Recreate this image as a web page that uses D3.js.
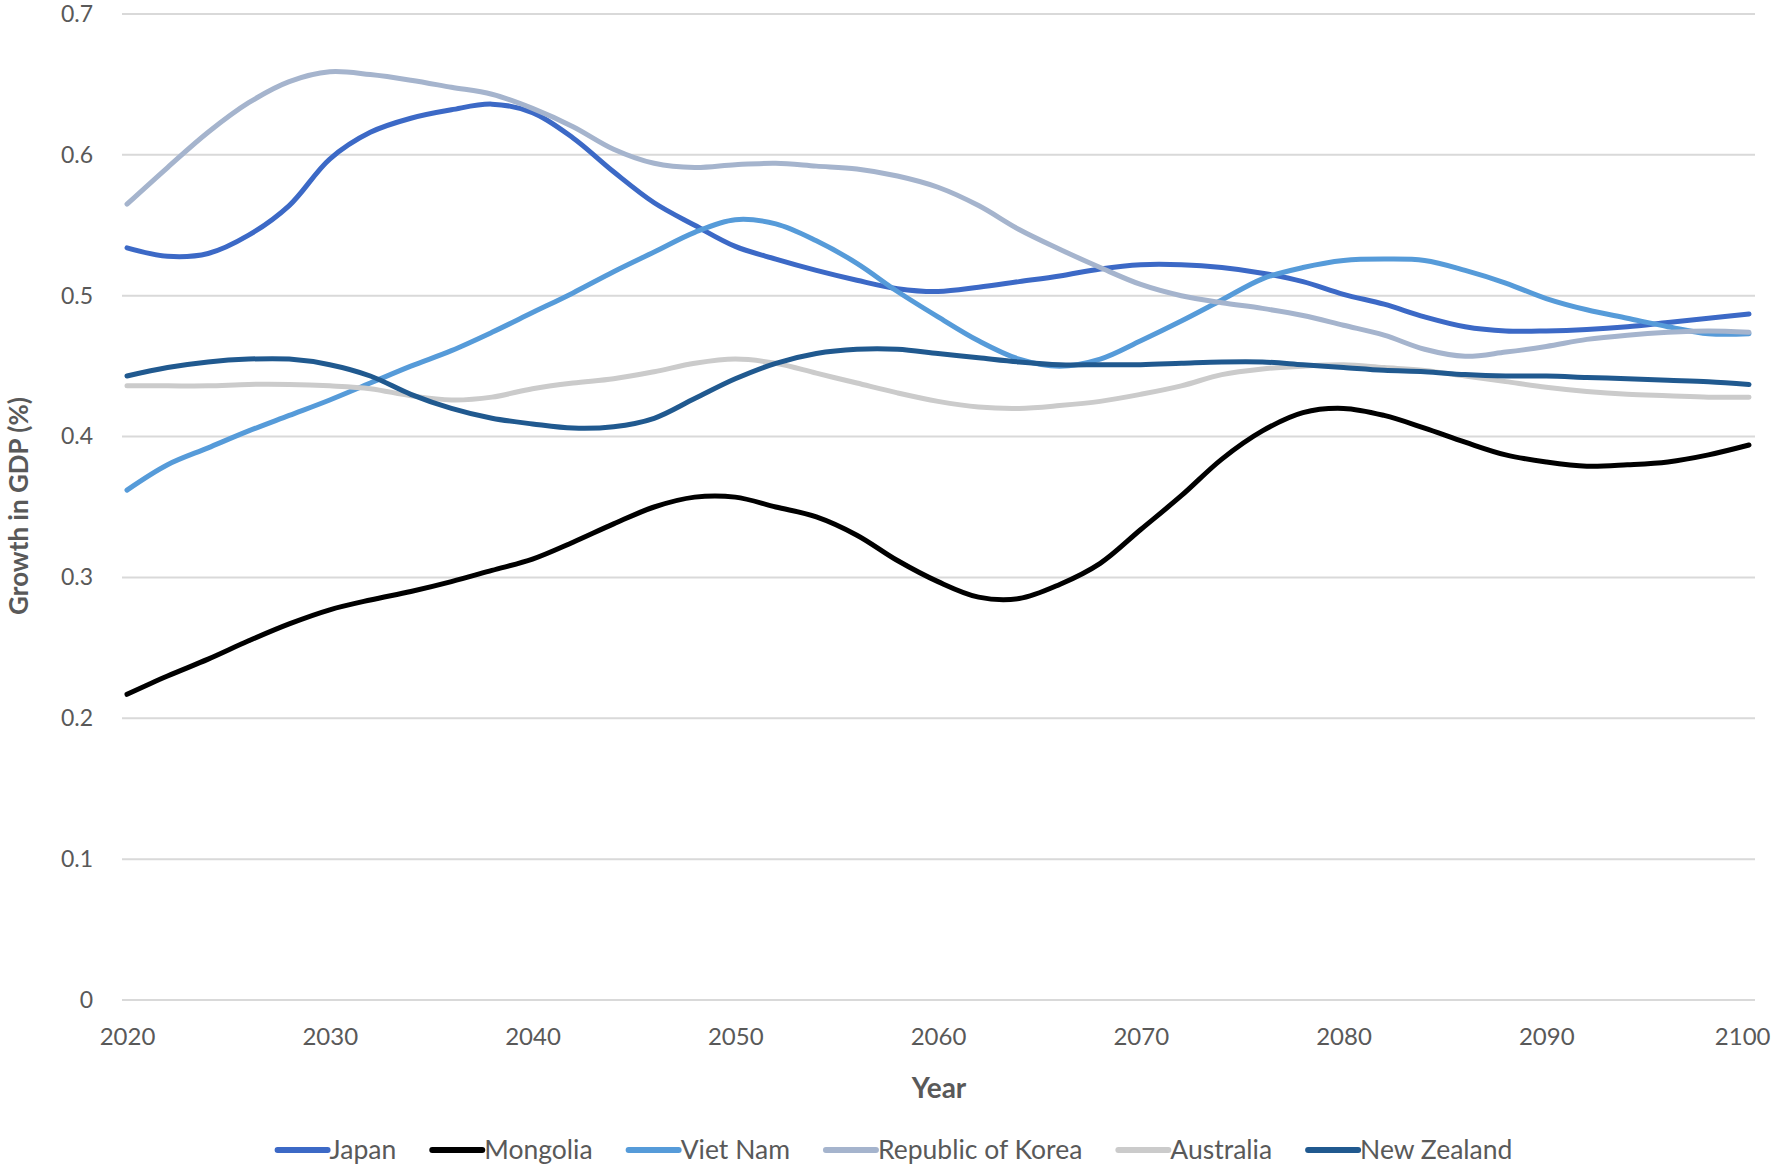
<!DOCTYPE html>
<html>
<head>
<meta charset="utf-8">
<script src="https://cdn.jsdelivr.net/npm/d3@7"></script>
<style>
  html, body { margin: 0; padding: 0; background: #fff; }
  svg { display: block; font-family: Lato, "Open Sans", sans-serif; }
</style>
</head>
<body>
<svg id="chart" width="1774" height="1167"></svg>
<script>
const years = [2020,2022,2024,2026,2028,2030,2032,2034,2036,2038,2040,2042,2044,2046,2048,2050,2052,2054,2056,2058,2060,2062,2064,2066,2068,2070,2072,2074,2076,2078,2080,2082,2084,2086,2088,2090,2092,2094,2096,2098,2100];

const japan     = [0.534,0.528,0.530,0.543,0.564,0.597,0.616,0.626,0.632,0.636,0.630,0.612,0.588,0.566,0.550,0.535,0.526,0.518,0.511,0.505,0.503,0.506,0.510,0.514,0.519,0.522,0.522,0.520,0.516,0.510,0.501,0.494,0.485,0.478,0.475,0.475,0.476,0.478,0.481,0.484,0.487];
const mongolia  = [0.217,0.230,0.242,0.255,0.267,0.277,0.284,0.290,0.297,0.305,0.313,0.325,0.338,0.350,0.357,0.357,0.350,0.343,0.330,0.312,0.297,0.286,0.285,0.295,0.310,0.334,0.358,0.384,0.404,0.417,0.420,0.415,0.406,0.396,0.387,0.382,0.379,0.380,0.382,0.387,0.394];
const vietNam   = [0.362,0.380,0.392,0.404,0.415,0.426,0.438,0.450,0.461,0.474,0.488,0.502,0.517,0.531,0.545,0.554,0.551,0.539,0.523,0.503,0.485,0.468,0.455,0.450,0.455,0.468,0.482,0.497,0.512,0.520,0.525,0.526,0.525,0.518,0.509,0.498,0.490,0.484,0.478,0.473,0.473];
const korea     = [0.565,0.591,0.616,0.637,0.652,0.659,0.657,0.653,0.648,0.643,0.633,0.620,0.604,0.594,0.591,0.593,0.594,0.592,0.590,0.585,0.577,0.564,0.547,0.533,0.520,0.508,0.500,0.495,0.491,0.486,0.479,0.472,0.462,0.457,0.460,0.464,0.469,0.472,0.474,0.475,0.474];
const australia = [0.436,0.436,0.436,0.437,0.437,0.436,0.434,0.429,0.426,0.428,0.434,0.438,0.441,0.446,0.452,0.455,0.452,0.445,0.438,0.431,0.425,0.421,0.420,0.422,0.425,0.430,0.436,0.444,0.448,0.450,0.451,0.449,0.447,0.443,0.439,0.435,0.432,0.430,0.429,0.428,0.428];
const newZealand= [0.443,0.449,0.453,0.455,0.455,0.451,0.443,0.430,0.420,0.413,0.409,0.406,0.407,0.413,0.427,0.441,0.452,0.459,0.462,0.462,0.459,0.456,0.453,0.451,0.451,0.451,0.452,0.453,0.453,0.451,0.449,0.447,0.446,0.444,0.443,0.443,0.442,0.441,0.440,0.439,0.437];

const seriesNames  = ["Japan","Mongolia","Viet Nam","Republic of Korea","Australia","New Zealand"];
const seriesValues = [japan, mongolia, vietNam, korea, australia, newZealand];
const seriesColors = ["#3C69C6","#000000","#569BD9","#A5B4CD","#CBCBCB","#20598F"];

const yTicks = [0,0.1,0.2,0.3,0.4,0.5,0.6,0.7];
const xTicks = [2020,2030,2040,2050,2060,2070,2080,2090,2100];

const svg = d3.select("#chart");
const x = d3.scaleLinear().domain([2020,2100]).range([127,1749]);
const y = d3.scaleLinear().domain([0,0.7]).range([1000,14]);
const textColor = "#595959";

// gridlines
svg.append("g").selectAll("line").data(yTicks).join("line")
  .attr("x1", 122).attr("x2", 1755)
  .attr("y1", d => y(d)).attr("y2", d => y(d))
  .attr("stroke", "#d9d9d9").attr("stroke-width", 2);

// y axis labels
const yAxis = d3.axisLeft(y).tickValues(yTicks).tickFormat(d => d === 0 ? "0" : d3.format(".1f")(d)).tickSize(0).tickPadding(0);
const gy = svg.append("g").attr("transform", "translate(93,0)").call(yAxis);
gy.select(".domain").remove();
gy.selectAll("text").attr("fill", textColor).style("font-size", "23px").style("font-family", "Lato, sans-serif");

// x axis labels
const xAxis = d3.axisBottom(x).tickValues(xTicks).tickFormat(d3.format("d")).tickSize(0).tickPadding(0);
const gx = svg.append("g").attr("transform", "translate(0,1028)").call(xAxis);
gx.select(".domain").remove();
gx.selectAll("text").attr("fill", textColor).style("font-size", "24px").style("font-family", "Lato, sans-serif");
// keep the last label inside the picture
gx.selectAll("text").filter(d => d === 2100).attr("text-anchor", "end").attr("dx", "21");

// axis titles
svg.append("text").attr("x", 939).attr("y", 1098).attr("text-anchor", "middle")
  .attr("fill", textColor).style("font-size", "28px").style("font-weight", "bold").text("Year");
svg.append("text").attr("transform", "translate(28,506) rotate(-90)").attr("text-anchor", "middle")
  .attr("fill", textColor).style("font-size", "26px").style("font-weight", "bold").text("Growth in GDP (%)");

// lines
const line = d3.line().x((d,i) => x(years[i])).y(d => y(d)).curve(d3.curveCatmullRom.alpha(0.5));
svg.append("g").selectAll("path").data(seriesValues).join("path")
  .attr("d", d => line(d))
  .attr("fill", "none")
  .attr("stroke", (d,i) => seriesColors[i])
  .attr("stroke-width", 5)
  .attr("stroke-linecap", "round")
  .attr("stroke-linejoin", "round");

// legend
const legend = svg.append("g");
const legendY = 1150;
const items = legend.selectAll("g").data(seriesNames).join("g");
items.append("line").attr("x1", 0).attr("x2", 50).attr("y1", 0).attr("y2", 0)
  .attr("stroke", (d,i) => seriesColors[i]).attr("stroke-width", 6).attr("stroke-linecap", "round");
items.append("text").attr("x", 52).attr("y", 9).attr("fill", textColor)
  .style("font-size", "26.5px").text(d => d);
let cx = 0;
const positions = [];
items.each(function() {
  const w = d3.select(this).select("text").node().getComputedTextLength();
  positions.push(cx);
  cx += 52 + w + 36;
});
const total = cx - 36;
const start = 895 - total / 2;
items.attr("transform", (d,i) => `translate(${start + positions[i]},${legendY})`);
</script>
</body>
</html>
